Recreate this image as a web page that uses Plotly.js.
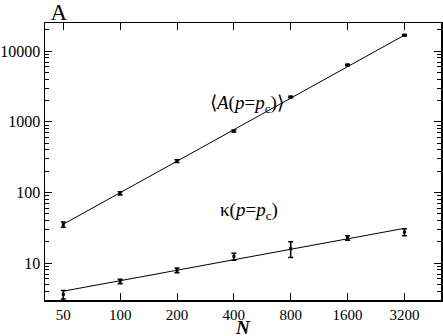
<!DOCTYPE html>
<html>
<head>
<meta charset="utf-8">
<script src="https://cdn.plot.ly/plotly-3.0.1.min.js"></script>
<style>
  html, body { margin: 0; padding: 0; background: #fff; }
  #chart { width: 443px; height: 336px; }
</style>
</head>
<body>
<div id="chart"></div>
<script>
// system sizes N
const sizes = [50, 100, 200, 400, 800, 1600, 3200];

// <A(p=pc)> with errors
const areaMean = [35, 97, 278, 740, 2240, 6350, 16800];
const areaErr = [3, 5, 12, 25, 60, 150, 400];

// kappa(p=pc) with errors
const kappaMean = [3.6, 5.5, 7.9, 12.4, 16.0, 22.7, 27.5];
const kappaErr = [0.5, 0.4, 0.6, 1.4, 4.0, 1.6, 3.2];

// fitted power-law lines, end points
const fitN = [50, 3200];
const fitArea = [35.5, 16800];
const fitKappa = [4.0, 31.0];

const serif = '"Liberation Serif", "Times New Roman", Times, serif';

function dataTrace(y, err) {
  return {
    x: sizes,
    y: y,
    type: 'scatter',
    mode: 'markers',
    marker: { size: 3, color: '#000', symbol: 'square' },
    error_y: { type: 'data', array: err, visible: true, color: '#000', thickness: 1.5, width: 2.5 },
    hoverinfo: 'x+y',
  };
}

function fitTrace(y) {
  return {
    x: fitN,
    y: y,
    type: 'scatter',
    mode: 'lines',
    line: { color: '#000', width: 1 },
    hoverinfo: 'skip',
  };
}

const traces = [
  fitTrace(fitArea),
  fitTrace(fitKappa),
  dataTrace(areaMean, areaErr),
  dataTrace(kappaMean, kappaErr),
];

const layout = {
  width: 443,
  height: 336,
  margin: { l: 45, r: 2, t: 23, b: 36 },
  paper_bgcolor: '#fff',
  plot_bgcolor: '#fff',
  showlegend: false,
  font: { family: serif, color: '#000', size: 15 },
  title: {
    text: 'A',
    font: { family: serif, size: 23, color: '#000' },
    xref: 'paper', x: 0.035, xanchor: 'center',
    yref: 'container', y: 0.963, yanchor: 'middle',
  },
  xaxis: {
    type: 'log',
    range: [Math.log10(40), Math.log10(5000)],
    tickvals: sizes,
    ticktext: sizes.map(String),
    ticks: 'inside',
    ticklen: 7,
    tickwidth: 1,
    tickcolor: '#000',
    showline: true,
    linecolor: '#000',
    linewidth: 1.5,
    mirror: 'ticks',
    showgrid: false,
    zeroline: false,
    tickfont: { family: serif, size: 15, color: '#000' },
  },
  yaxis: {
    type: 'log',
    range: [Math.log10(3), Math.log10(25000)],
    dtick: 1,
    tickformat: 'd',
    ticks: 'inside',
    ticklen: 7,
    tickwidth: 1,
    tickcolor: '#000',
    showline: true,
    linecolor: '#000',
    linewidth: 1.5,
    mirror: 'ticks',
    showgrid: false,
    zeroline: false,
    tickfont: { family: serif, size: 16, color: '#000' },
    minor: { dtick: 'D1', ticks: 'inside', ticklen: 4, tickcolor: '#000', tickwidth: 1, showgrid: false },
  },
  annotations: [
    {
      xref: 'paper', yref: 'paper', x: 0.51, y: 0.758,
      text: '⟨<i>A</i>(<i>p</i>=<i>p</i><sub>c</sub>)⟩',
      showarrow: false,
      font: { family: serif, size: 19, color: '#000' },
    },
    {
      xref: 'paper', yref: 'paper', x: 0.515, y: 0.27,
      text: 'κ(<i>p</i>=<i>p</i><sub>c</sub>)',
      showarrow: false,
      font: { family: serif, size: 19, color: '#000' },
    },
    {
      xref: 'paper', yref: 'paper', x: 0.5, y: -0.1, yanchor: 'middle',
      text: '<b><i>N</i></b>',
      showarrow: false,
      font: { family: serif, size: 19, color: '#000' },
    },
  ],
};

Plotly.newPlot('chart', traces, layout, { displayModeBar: false, staticPlot: true });
</script>
</body>
</html>
